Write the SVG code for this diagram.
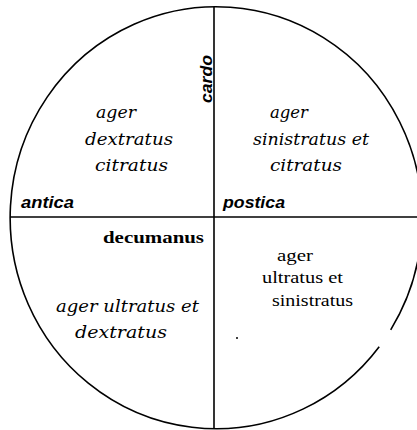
<svg xmlns="http://www.w3.org/2000/svg" width="417" height="430" viewBox="0 0 417 430">
<style>
.ln{fill:none;stroke:#000;stroke-width:1.6}
.ax{font-family:"Liberation Sans",Arial,sans-serif;font-weight:bold;font-style:italic;font-size:17px;fill:#000}
.it{font-family:"DejaVu Serif","Liberation Serif",serif;font-style:italic;font-size:17px;fill:#000}
.rm{font-family:"Liberation Serif","Times New Roman",serif;font-size:16px;fill:#000}
.bd{font-family:"Liberation Serif","Times New Roman",serif;font-weight:bold;font-size:17px;fill:#000}
</style>
<rect width="417" height="430" fill="#fff"/>
<g id="circle">
<path class="ln" d="M379.2 346.7 A206 211 0 1 1 390.7 329.8"/>
</g>
<g id="connectors">
<line id="cardo-line" class="ln" x1="214" y1="7" x2="214" y2="429"/>
<line id="decumanus-line" class="ln" x1="10" y1="217" x2="417" y2="217"/>
</g>
<g id="cardo">
<text class="ax" transform="translate(212,103) rotate(-90)" textLength="48" lengthAdjust="spacingAndGlyphs">cardo</text>
</g>
<g id="antica">
<text class="ax" x="21" y="208" textLength="53" lengthAdjust="spacingAndGlyphs">antica</text>
</g>
<g id="postica">
<text class="ax" x="223" y="208" textLength="62" lengthAdjust="spacingAndGlyphs">postica</text>
</g>
<g id="decumanus">
<text class="bd" x="103" y="243" textLength="101" lengthAdjust="spacingAndGlyphs">decumanus</text>
</g>
<g id="q-top-left">
<text class="it" x="96" y="118" textLength="40" lengthAdjust="spacingAndGlyphs">ager</text>
<text class="it" x="85" y="145" textLength="88" lengthAdjust="spacingAndGlyphs">dextratus</text>
<text class="it" x="95" y="171" textLength="73" lengthAdjust="spacingAndGlyphs">citratus</text>
</g>
<g id="q-top-right">
<text class="it" x="270" y="118" textLength="38" lengthAdjust="spacingAndGlyphs">ager</text>
<text class="it" x="253" y="145" textLength="116" lengthAdjust="spacingAndGlyphs">sinistratus et</text>
<text class="it" x="270" y="171" textLength="72" lengthAdjust="spacingAndGlyphs">citratus</text>
</g>
<g id="q-bottom-left">
<text class="it" x="56" y="312" textLength="143" lengthAdjust="spacingAndGlyphs">ager ultratus et</text>
<text class="it" x="75" y="338" textLength="92" lengthAdjust="spacingAndGlyphs">dextratus</text>
</g>
<g id="q-bottom-right">
<text class="rm" x="277" y="261" textLength="36" lengthAdjust="spacingAndGlyphs">ager</text>
<text class="rm" x="262" y="283" textLength="81" lengthAdjust="spacingAndGlyphs">ultratus et</text>
<text class="rm" x="272" y="306" textLength="81" lengthAdjust="spacingAndGlyphs">sinistratus</text>
</g>
<circle cx="237" cy="338" r="1" fill="#000"/>
</svg>
